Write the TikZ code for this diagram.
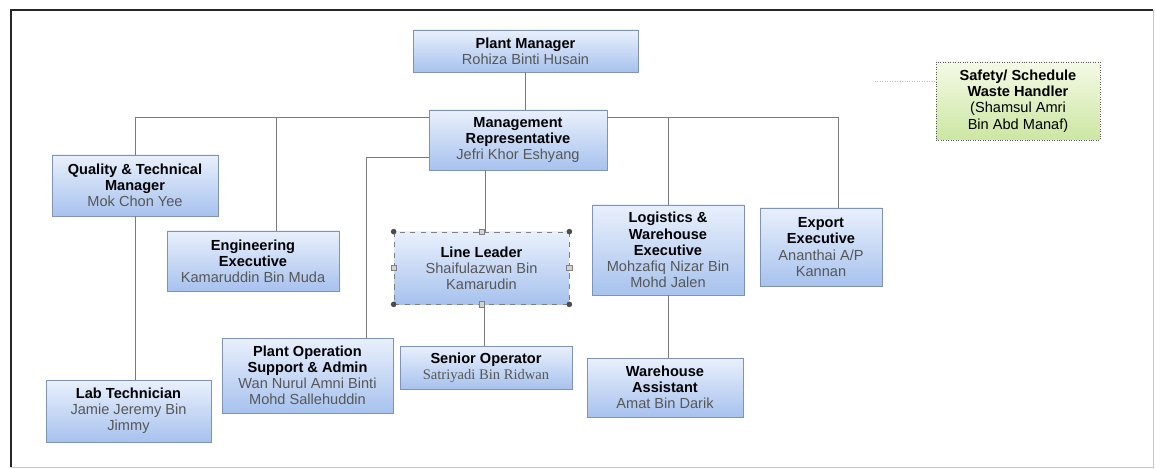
\documentclass[tikz,border=0pt]{standalone}
\usepackage{fontspec}
\setmainfont{Liberation Sans}
\newfontfamily\namefont{Liberation Serif}
\definecolor{boxtop}{HTML}{E9F0FC}
\definecolor{boxbot}{HTML}{A7C2EE}
\definecolor{boxline}{HTML}{7E93B7}
\definecolor{greentop}{HTML}{F4FAE6}
\definecolor{greenbot}{HTML}{CCE6A2}
\definecolor{wirecol}{HTML}{7A7A7A}
\definecolor{namegray}{HTML}{575757}
\newcommand\ttl[1]{\textbf{#1}}
\newcommand\who[1]{\textcolor{namegray}{#1}}
\tikzset{
    post/.style 2 args={draw=boxline, top color=boxtop, bottom color=boxbot,
        minimum width=#1*0.02cm, minimum height=#2*0.02cm, inner sep=1pt,
        align=center, font=\fontsize{8.3}{9.2}\selectfont},
    note/.style 2 args={post={#1}{#2}, draw=gray!70!black, densely dotted,
        top color=greentop, bottom color=greenbot},
    link/.style={draw=wirecol, line width=0.5pt},
}
\begin{document}
\begin{tikzpicture}[x=0.02cm, y=-0.02cm]
    \useasboundingbox (0,0) rectangle (1155,469);
    \draw[gray!45] (11,467) -| (1153,10);
    \draw[gray!30!black, line width=0.7pt] (11,467) |- (1153,10);

    \node[post={225}{42}] (pm) at (525.5,51) {\ttl{Plant Manager}\\\who{Rohiza Binti Husain}};
    \node[post={178}{60}] (mr) at (518,140) {\ttl{Management}\\\ttl{Representative}\\\who{Jefri Khor Eshyang}};
    \node[post={166}{61}] (qtm) at (135,185.5) {\ttl{Quality \& Technical}\\\ttl{Manager}\\\who{Mok Chon Yee}};
    \node[post={165}{62}] (lab) at (128.5,411) {\ttl{Lab Technician}\\\who{Jamie Jeremy Bin}\\\who{Jimmy}};
    \node[post={172}{60}] (eng) at (253,261) {\ttl{Engineering}\\\ttl{Executive}\\\who{Kamaruddin Bin Muda}};
    \node[post={171}{75}] (pos) at (307.5,375.5) {\ttl{Plant Operation}\\\ttl{Support \& Admin}\\\who{Wan Nurul Amni Binti}\\\who{Mohd Sallehuddin}};
    \node[post={175}{72}, draw=gray, dashed] (ll) at (481.5,268) {\ttl{Line Leader}\\\who{Shaifulazwan Bin}\\\who{Kamarudin}};
    \node[post={172}{43}] (so) at (486,367.5) {\ttl{Senior Operator}\\\who{\namefont Satriyadi Bin Ridwan}};
    \node[post={152}{90}] (log) at (668,250) {\ttl{Logistics \&}\\\ttl{Warehouse}\\\ttl{Executive}\\\who{Mohzafiq Nizar Bin}\\\who{Mohd Jalen}};
    \node[post={156}{59}] (wa) at (665,387.5) {\ttl{Warehouse}\\\ttl{Assistant}\\\who{Amat Bin Darik}};
    \node[post={122}{78}] (exp) at (821,247) {\ttl{Export}\\\ttl{Executive}\\\who{Ananthai A/P}\\\who{Kannan}};
    \node[note={164}{78}] (swh) at (1018,101) {\ttl{Safety/ Schedule}\\\ttl{Waste Handler}\\(Shamsul Amri\\Bin Abd Manaf)};

    \foreach \a in {north west, north east, south west, south east}
        \fill[gray!60!black] (ll.\a) circle (1.6pt);
    \foreach \a in {north, south, east, west}
        \filldraw[draw=gray, fill=gray!35] ([shift={(-1.5pt,-1.5pt)}]ll.\a) rectangle ++(3pt,3pt);

    \draw[link] (pm.south) -- (pm.south |- mr.north);
    \draw[link] (mr.west |- 0,117) -| (qtm.north);
    \draw[link] (eng.north -| 276,0) |- (mr.west |- 0,117);
    \draw[link] (pos.north -| 366,0) |- (mr.west |- 0,157);
    \draw[link] (mr.east |- 0,117) -| (exp.north -| 838,0);
    \draw[link] (log.north) |- (mr.east |- 0,117);
    \draw[link] (qtm.south) -- (qtm.south |- lab.north);
    \draw[link] (ll.north -| 485,0) -- (mr.south -| 485,0);
    \draw[link] (ll.south -| 484,0) -- (so.north -| 484,0);
    \draw[link] (log.south) -- (log.south |- wa.north);
    \coordinate (tail) at (875,81);
    \draw[gray!50, densely dotted] (tail) -- (tail -| swh.west);
\end{tikzpicture}
\end{document}
